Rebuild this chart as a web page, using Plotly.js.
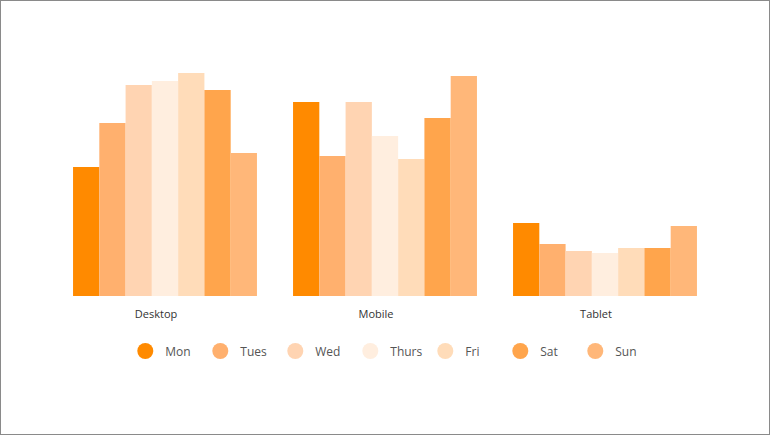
<!DOCTYPE html>
<html>
<head>
<meta charset="utf-8">
<script src="https://cdn.plot.ly/plotly-3.0.1.min.js"></script>
<style>
html,body{margin:0;padding:0;background:#fff;}
#wrap{position:relative;width:770px;height:435px;}
#chart{width:770px;height:435px;}
#frame{position:absolute;left:0;top:0;width:770px;height:435px;box-sizing:border-box;border:1px solid #8a8a8a;pointer-events:none;}
</style>
</head>
<body>
<div id="wrap"><div id="chart"></div><div id="frame"></div></div>
<script>
var categories = ["Desktop", "Mobile", "Tablet"];
var days = ["Mon", "Tues", "Wed", "Thurs", "Fri", "Sat", "Sun"];
var mon   = [129, 194, 73];
var tues  = [173, 140, 52];
var wed   = [211, 194, 45];
var thurs = [215, 160, 43];
var fri   = [223, 137, 48];
var sat   = [206, 178, 48];
var sun   = [143, 220, 70];
var seriesValues = [mon, tues, wed, thurs, fri, sat, sun];
var colors = ["#FF8A00", "#FFB06E", "#FFD4B2", "#FFEEDF", "#FFDCB9", "#FFA54C", "#FFB779"];

var traces = [];
days.forEach(function(d, i){
  traces.push({
    type: "bar", x: categories, y: seriesValues[i], name: d,
    marker: {color: colors[i], line: {width: 0}},
    showlegend: false, hoverinfo: "x+y+name"
  });
});
days.forEach(function(d, i){
  traces.push({
    type: "scatter", mode: "markers", x: [null], y: [null], name: d,
    marker: {color: colors[i], size: 18, symbol: "circle"},
    showlegend: true, hoverinfo: "skip"
  });
});

var layout = {
  width: 770, height: 435,
  margin: {l: 55, r: 55, t: 66, b: 139},
  paper_bgcolor: "#ffffff", plot_bgcolor: "#ffffff",
  font: {family: "Open Sans, sans-serif", size: 11, color: "#444"},
  barmode: "group", bargap: 0.164, bargroupgap: 0,
  xaxis: {type: "category", showgrid: false, zeroline: false, showline: false,
          ticks: "", ticklabelstandoff: 10, ticklabelshift: -9,
          tickfont: {size: 11, color: "#333"}, fixedrange: true},
  yaxis: {range: [0, 230], visible: false, showgrid: false, zeroline: false, fixedrange: true},
  showlegend: true,
  legend: {orientation: "h", x: 0.1065, xanchor: "left", y: -0.239, yanchor: "middle",
           entrywidth: 30, entrywidthmode: "pixels", itemsizing: "trace",
           font: {size: 12, color: "#555"}, bgcolor: "rgba(0,0,0,0)"}
};
Plotly.newPlot("chart", traces, layout, {displayModeBar: false, staticPlot: true});
</script>
</body>
</html>
